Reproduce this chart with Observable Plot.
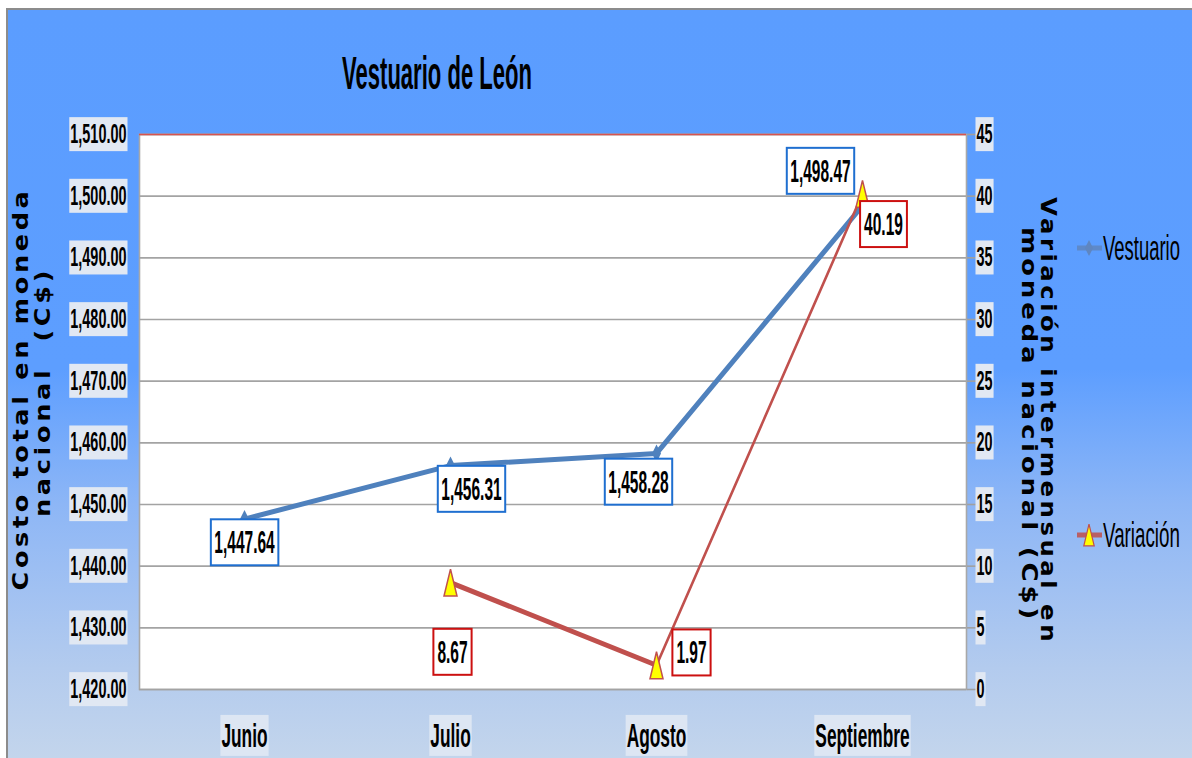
<!DOCTYPE html>
<html>
<head>
<meta charset="utf-8">
<script src="https://cdn.jsdelivr.net/npm/d3@7"></script>
<script src="https://cdn.jsdelivr.net/npm/@observablehq/plot@0.6"></script>
<style>
html, body { margin: 0; padding: 0; background: #fff; }
#wrap { position: relative; width: 1192px; height: 758px; overflow: hidden; background: #fff; }
#bg { position: absolute; left: 6px; top: 8px; right: 0; bottom: 0;
  border-left: 2px solid #8c8c8c; border-top: 2px solid #8c8c8c;
  background: linear-gradient(to bottom, #5b9dff 0%, #5d9eff 48%, #8db6f6 66%, #b3cbee 88%, #c3d5ec 100%); }
#chart, #overlay { position: absolute; left: 0; top: 0; }
#overlay { pointer-events: none; }
</style>
</head>
<body>
<div id="wrap"><div id="bg"></div><div id="chart"></div><svg id="overlay" width="1192" height="758"></svg></div>
<script>
// ---- data ----
const months = ["Junio", "Julio", "Agosto", "Septiembre"];
const vestuario = [1447.64, 1456.31, 1458.28, 1498.47];
const variacionMonths = ["Julio", "Agosto", "Septiembre"];
const variacion = [8.67, 1.97, 40.19];
const leftTicks = [1420, 1430, 1440, 1450, 1460, 1470, 1480, 1490, 1500, 1510];
const rightTicks = [0, 5, 10, 15, 20, 25, 30, 35, 40, 45];
const title = "Vestuario de León";
const yTitleLeft = ["Costo total en moneda", "nacional  (C$)"];
const yTitleRight = ["Variación intermensual en", "moneda nacional (C$)"];
const seriesNames = ["Vestuario", "Variación"];

// secondary axis mapping (0..45 -> 1420..1510)
const Y0 = 1420, K = 2;
const toLeft = v => Y0 + K * v;

const vData = months.map((m, i) => ({month: m, value: vestuario[i]}));
const rData = variacionMonths.map((m, i) => ({month: m, value: variacion[i], y: toLeft(variacion[i])}));

// label offsets (style, px)
const vOff = [[0, 24], [21, 24], [-18, 29], [-42, -34]];
const rOff = [[2, 70], [35, -12], [21, 31]];

const BLUE = "#4f81bd", RED = "#c0504d";
const font = "'Liberation Sans',Arial,sans-serif";

const tallDiamond = {draw(ctx) { ctx.moveTo(0, -9); ctx.lineTo(4.5, 0); ctx.lineTo(0, 9); ctx.lineTo(-4.5, 0); ctx.closePath(); }};
const tallTriangle = {draw(ctx) { ctx.moveTo(0, -13.5); ctx.lineTo(6.5, 13.5); ctx.lineTo(-6.5, 13.5); ctx.closePath(); }};

const fv = d3.format(",.2f"), fr = d3.format(".2f");

const marks = [
  Plot.frame({fill: "white", stroke: "#a8a8a8", strokeWidth: 1.6}),
  Plot.gridY(leftTicks, {stroke: "#a3a3a3", strokeOpacity: 1, strokeWidth: 1.6}),
  Plot.ruleY([1510], {stroke: "#d9534f", strokeWidth: 1.6}),
  Plot.axisY({anchor: "left", ticks: leftTicks, tickSize: 0, tickPadding: 13, tickFormat: fv,
    fontSize: 27, fontWeight: "bold", fontFamily: font, fill: "black", label: null}),
  Plot.axisY({anchor: "right", ticks: rightTicks.map(toLeft), tickSize: 9, tickPadding: 1,
    tickFormat: d => String((d - Y0) / K), stroke: "#a0a0a0", strokeWidth: 1.6,
    fontSize: 27, fontWeight: "bold", fontFamily: font, fill: "black", label: null}),
  Plot.axisX({anchor: "bottom", tickSize: 0, tickPadding: 34, fontSize: 33, fontWeight: "bold",
    fontFamily: font, fill: "black", label: null}),
  Plot.line(vData, {x: "month", y: "value", stroke: BLUE, strokeWidth: 5}),
  Plot.dot(vData, {x: "month", y: "value", symbol: tallDiamond, fill: BLUE, stroke: "none"}),
  Plot.line(rData.slice(0, 2), {x: "month", y: "y", stroke: RED, strokeWidth: 5}),
  Plot.line(rData.slice(1, 3), {x: "month", y: "y", stroke: RED, strokeWidth: 2.6}),
  Plot.dot(rData, {x: "month", y: "y", symbol: tallTriangle, fill: "#ffff00", stroke: RED, strokeWidth: 1.5}),
  ...vData.map((d, i) => Plot.text([d], {x: "month", y: "value", text: d => fv(d.value), dx: vOff[i][0], dy: vOff[i][1],
    fontSize: 32, fontWeight: "bold", fontFamily: font, fill: "black", className: "vlabel"})),
  ...rData.map((d, i) => Plot.text([d], {x: "month", y: "y", text: d => fr(d.value), dx: rOff[i][0], dy: rOff[i][1],
    fontSize: 32, fontWeight: "bold", fontFamily: font, fill: "black", className: "rlabel"}))
];

const svg = Plot.plot({
  width: 1192, height: 758,
  marginLeft: 139, marginRight: 226, marginTop: 134, marginBottom: 69,
  x: {type: "point", domain: months, padding: 0.5},
  y: {domain: [1420, 1510]},
  style: {background: "transparent", color: "black", overflow: "visible", fontFamily: font},
  marks
});
document.getElementById("chart").appendChild(svg);

const NS = "http://www.w3.org/2000/svg";
function squeeze(el, sx, targetW) {
  const bb = el.getBBox();
  if (targetW) sx = targetW / bb.width;
  const anchor = getComputedStyle(el).textAnchor;
  const ax = anchor === "end" ? bb.x + bb.width : anchor === "middle" ? bb.x + bb.width / 2 : bb.x;
  const t = el.getAttribute("transform") || "";
  el.setAttribute("transform", `${t} translate(${ax},0) scale(${sx},1) translate(${-ax},0)`);
  const w = bb.width * sx;
  const left = anchor === "end" ? ax - w : anchor === "middle" ? ax - w / 2 : ax;
  return {t, left, w, cy: bb.y + bb.height / 2};
}
function boxBehind(el, info, padX, h, fill, stroke, sw) {
  const r = document.createElementNS(NS, "rect");
  r.setAttribute("x", info.left - padX);
  r.setAttribute("y", info.cy - h / 2);
  r.setAttribute("width", info.w + 2 * padX);
  r.setAttribute("height", h);
  r.setAttribute("fill", fill);
  r.setAttribute("stroke", stroke || "none");
  if (sw) r.setAttribute("stroke-width", sw);
  if (info.t) r.setAttribute("transform", info.t);
  el.parentNode.insertBefore(r, el);
}
svg.querySelectorAll('g[aria-label="y-axis tick label"] text').forEach(el => {
  const info = squeeze(el, 0.535);
  boxBehind(el, info, 1, 34, "#e1e8f3");
});
svg.querySelectorAll('g[aria-label="x-axis tick label"] text').forEach(el => {
  const info = squeeze(el, 0.525);
  boxBehind(el, info, 1, 41, "#dde6f3");
});
svg.querySelectorAll('g.vlabel text').forEach(el => {
  const info = squeeze(el, 0.485);
  boxBehind(el, info, 3.5, 46, "white", "#1f6fd0", 2);
});
svg.querySelectorAll('g.rlabel text').forEach(el => {
  const info = squeeze(el, 0.485);
  boxBehind(el, info, 4, 46, "white", "#cc1010", 2);
});

// ---- overlay: title, axis titles, legend ----
const ov = d3.select("#overlay");
const tt = ov.append("text").attr("x", 437).attr("y", 89).attr("text-anchor", "middle")
  .attr("font-family", font).attr("font-weight", "bold").attr("font-size", 47).attr("fill", "black").text(title);
squeeze(tt.node(), null, 190);

function axisTitle(str, tx, ty, rot, len) {
  ov.append("text").attr("transform", `translate(${tx},${ty}) rotate(${rot})`)
    .attr("x", -len / 2).attr("y", 0).attr("text-anchor", "start")
    .attr("textLength", len).attr("lengthAdjust", "spacingAndGlyphs")
    .style("white-space", "pre").style("letter-spacing", "3px")
    .attr("font-family", "'DejaVu Sans',sans-serif").attr("font-weight", "bold").attr("font-size", 21)
    .attr("fill", "black").text(str);
}
axisTitle(yTitleLeft[0], 28, 389, -90, 403);
axisTitle(yTitleLeft[1], 50, 392, -90, 250);
axisTitle(yTitleRight[0], 1041, 421, 90, 448);
axisTitle(yTitleRight[1], 1022, 425, 90, 396);

// legend
const lg = [{y: 248, color: "#5f86c0", sym: tallDiamond, fill: "#5f86c0", stroke: "none"},
            {y: 535, color: RED, sym: tallTriangle, fill: "#ffff00", stroke: RED}];
lg.forEach((L, i) => {
  ov.append("line").attr("x1", 1077).attr("x2", 1102).attr("y1", L.y).attr("y2", L.y)
    .attr("stroke", L.color).attr("stroke-width", 5).attr("opacity", 0.85);
  ov.append("path").attr("d", d3.symbol(L.sym)()).attr("transform", `translate(1089,${L.y}) scale(${i ? 0.8 : 0.9})`)
    .attr("fill", L.fill).attr("stroke", L.stroke).attr("stroke-width", 1.5);
  const t = ov.append("text").attr("x", 1103).attr("y", L.y + 12).attr("font-family", font)
    .attr("font-size", 35).attr("fill", "black").text(seriesNames[i]);
  squeeze(t.node(), null, 77);
});
</script>
</body>
</html>
